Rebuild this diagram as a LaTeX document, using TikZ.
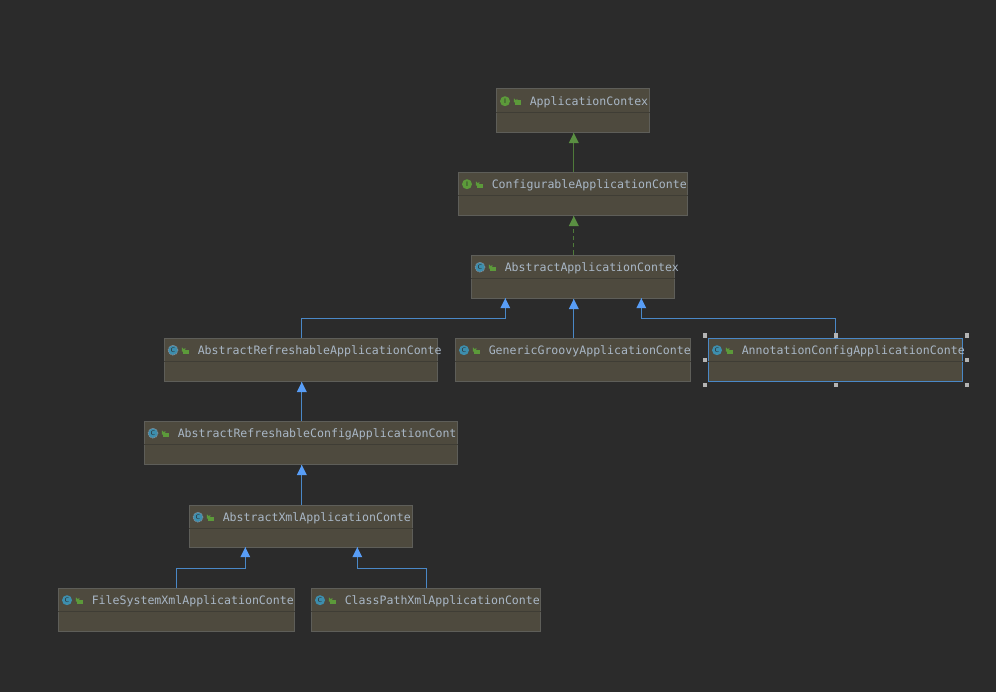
\documentclass[tikz,border=0pt]{standalone}
\usepackage{fontspec}
\newfontfamily\umlmono{DejaVu Sans Mono}
\usetikzlibrary{calc}
\definecolor{bgc}{HTML}{2B2B2B}
\definecolor{boxfill}{HTML}{4E4A3E}
\definecolor{boxline}{HTML}{5E5E59}
\definecolor{sepline}{HTML}{3F3D35}
\definecolor{labelc}{HTML}{A9B7C6}
\definecolor{bluea}{HTML}{4A88C7}
\definecolor{blueh}{HTML}{589DF6}
\definecolor{greena}{HTML}{4F7A3A}
\definecolor{greenh}{HTML}{5A8F42}
\definecolor{iconblue}{HTML}{3D8EAD}
\definecolor{icongreen}{HTML}{5C9A3A}
\definecolor{lockg}{HTML}{5C9A3A}
\definecolor{handlec}{HTML}{B4B4B4}
\tikzset{
  x=0.75pt,y=-0.75pt,
  umlbox/.style={draw=boxline,fill=boxfill,line width=0.75pt,inner sep=0pt,rectangle},
  umlsel/.style={umlbox,draw=bluea},
  umllabel/.style={inner sep=0pt,anchor=base west,text=labelc,font=\umlmono\fontsize{8.68pt}{10pt}\selectfont},
  iconc/.style={circle,inner sep=0pt,minimum size=7.5pt,fill=iconblue},
  iconi/.style={circle,inner sep=0pt,minimum size=7.5pt,fill=icongreen},
  icona/.style={iconc,draw=labelc!70!bgc,dash pattern=on 0.9pt off 0.6pt,line width=0.5pt},
  iconmark/.style={inner sep=0pt,text=bgc,font=\sffamily\fontsize{5pt}{5pt}\selectfont},
  blueline/.style={draw=bluea,line width=0.75pt},
  greenline/.style={draw=greena,line width=0.75pt},
  bluehead/.style={fill=blueh,draw=none},
  greenhead/.style={fill=greenh,draw=none},
  handle/.style={fill=handlec,draw=none,inner sep=0pt,minimum size=3.6pt,rectangle},
}
% name, x1, y1, x2, y2, style, icon style, icon mark, text
\newcommand{\umlclass}[9]{%
  \node[#6,minimum width=#4*0.75pt-#2*0.75pt,minimum height=#5*0.75pt-#3*0.75pt,anchor=north west] (#1) at (#2,#3) {};
  \draw[draw=sepline,line width=0.75pt] ($(#1.north west)+(0,24)$) -- ($(#1.north east)+(0,24)$);
  \node[#7] (#1i) at ($(#1.north west)+(8.7,12.7)$) {};
  \node[iconmark] (#1m) at (#1i) {#8};
  \draw[lockg,line width=0.75pt] ($(#1.north west)+(18,14)$) -- ++(0,-3) arc[start angle=180,end angle=0,radius=1.5];
  \fill[lockg] ($(#1.north west)+(19,12)$) rectangle ($(#1.north west)+(24.5,16.3)$);
  \node[umllabel] (#1t) at ($(#1.north west)+(33.2,17)$) {#9};
}
% triangular head with its tip on a named coordinate
\newcommand{\umlhead}[2]{\fill[#1] (#2) -- ++(5,10) -- ++(-10,0) -- cycle;}
\begin{document}
\begin{tikzpicture}
\useasboundingbox (0,0) rectangle (996,692);
\fill[bgc] (0,0) rectangle (996,692);
\begin{scope}[shift={(-0.7,-0.5)}]
\umlclass{appctx}{497}{89}{650}{132}{umlbox}{iconi}{I}{ApplicationContex}
\umlclass{confctx}{459}{172}{688}{215}{umlbox}{iconi}{I}{ConfigurableApplicationConte}
\umlclass{absctx}{472}{255}{675}{298}{umlbox}{icona}{C}{AbstractApplicationContex}
\umlclass{refctx}{165}{338}{438}{381}{umlbox}{icona}{C}{AbstractRefreshableApplicationConte}
\umlclass{groovy}{456}{338}{691}{381}{umlbox}{iconc}{C}{GenericGroovyApplicationConte}
\umlclass{annot}{709}{338}{963}{381}{umlsel}{iconc}{C}{AnnotationConfigApplicationConte}
\umlclass{refconf}{145}{421}{458}{464}{umlbox}{icona}{C}{AbstractRefreshableConfigApplicationCont}
\umlclass{xmlctx}{190}{505}{413}{547}{umlbox}{icona}{C}{AbstractXmlApplicationConte}
\umlclass{fsxml}{59}{588}{295}{631}{umlbox}{iconc}{C}{FileSystemXmlApplicationConte}
\umlclass{cpxml}{312}{588}{541}{631}{umlbox}{iconc}{C}{ClassPathXmlApplicationConte}

% arrow tips
\coordinate (t1) at ($(appctx.south)+(0.5,0.5)$);
\coordinate (t2) at ($(confctx.south)+(0.5,0.5)$);
\coordinate (t3a) at (506,298.7);
\coordinate (t3b) at ($(absctx.south)+(0.5,0.5)$);
\coordinate (t3c) at (642,298.7);
\coordinate (t4) at ($(refctx.south)+(0.5,0.5)$);
\coordinate (t5) at ($(refconf.south)+(0.5,0.5)$);
\coordinate (t6a) at (246,547.7);
\coordinate (t6b) at (358,547.7);

\draw[greenline] ($(confctx.north)+(0.5,0)$) -- (t1);
\draw[greenline,dash pattern=on 3.2pt off 2.2pt] ($(absctx.north)+(0.5,0)$) -- (t2);
\draw[blueline] ($(refctx.north)+(0.5,0)$) |- (t3a |- 0,319) -- (t3a);
\draw[blueline] ($(groovy.north)+(0.5,0)$) -- (t3b);
\draw[blueline] (annot.north) |- (t3c |- 0,319) -- (t3c);
\draw[blueline] ($(refconf.north)+(0.5,0)$) -- (t4);
\draw[blueline] ($(xmlctx.north)+(0.5,0)$) -- (t5);
\draw[blueline] (fsxml.north) |- (t6a |- 0,569) -- (t6a);
\draw[blueline] ($(cpxml.north)+(0.5,0)$) |- (t6b |- 0,569) -- (t6b);

\umlhead{greenhead}{t1}
\umlhead{greenhead}{t2}
\umlhead{bluehead}{t3a}
\umlhead{bluehead}{t3b}
\umlhead{bluehead}{t3c}
\umlhead{bluehead}{t4}
\umlhead{bluehead}{t5}
\umlhead{bluehead}{t6a}
\umlhead{bluehead}{t6b}

% selection handles
\node[handle] (h1) at (705.6,336) {};
\node[handle] (h2) at (836.6,336) {};
\node[handle] (h3) at (967.6,336) {};
\node[handle] (h4) at (705.6,360.5) {};
\node[handle] (h5) at (967.6,360.5) {};
\node[handle] (h6) at (705.6,385.5) {};
\node[handle] (h7) at (836.6,385.5) {};
\node[handle] (h8) at (967.6,385.5) {};
\end{scope}
\end{tikzpicture}
\end{document}
